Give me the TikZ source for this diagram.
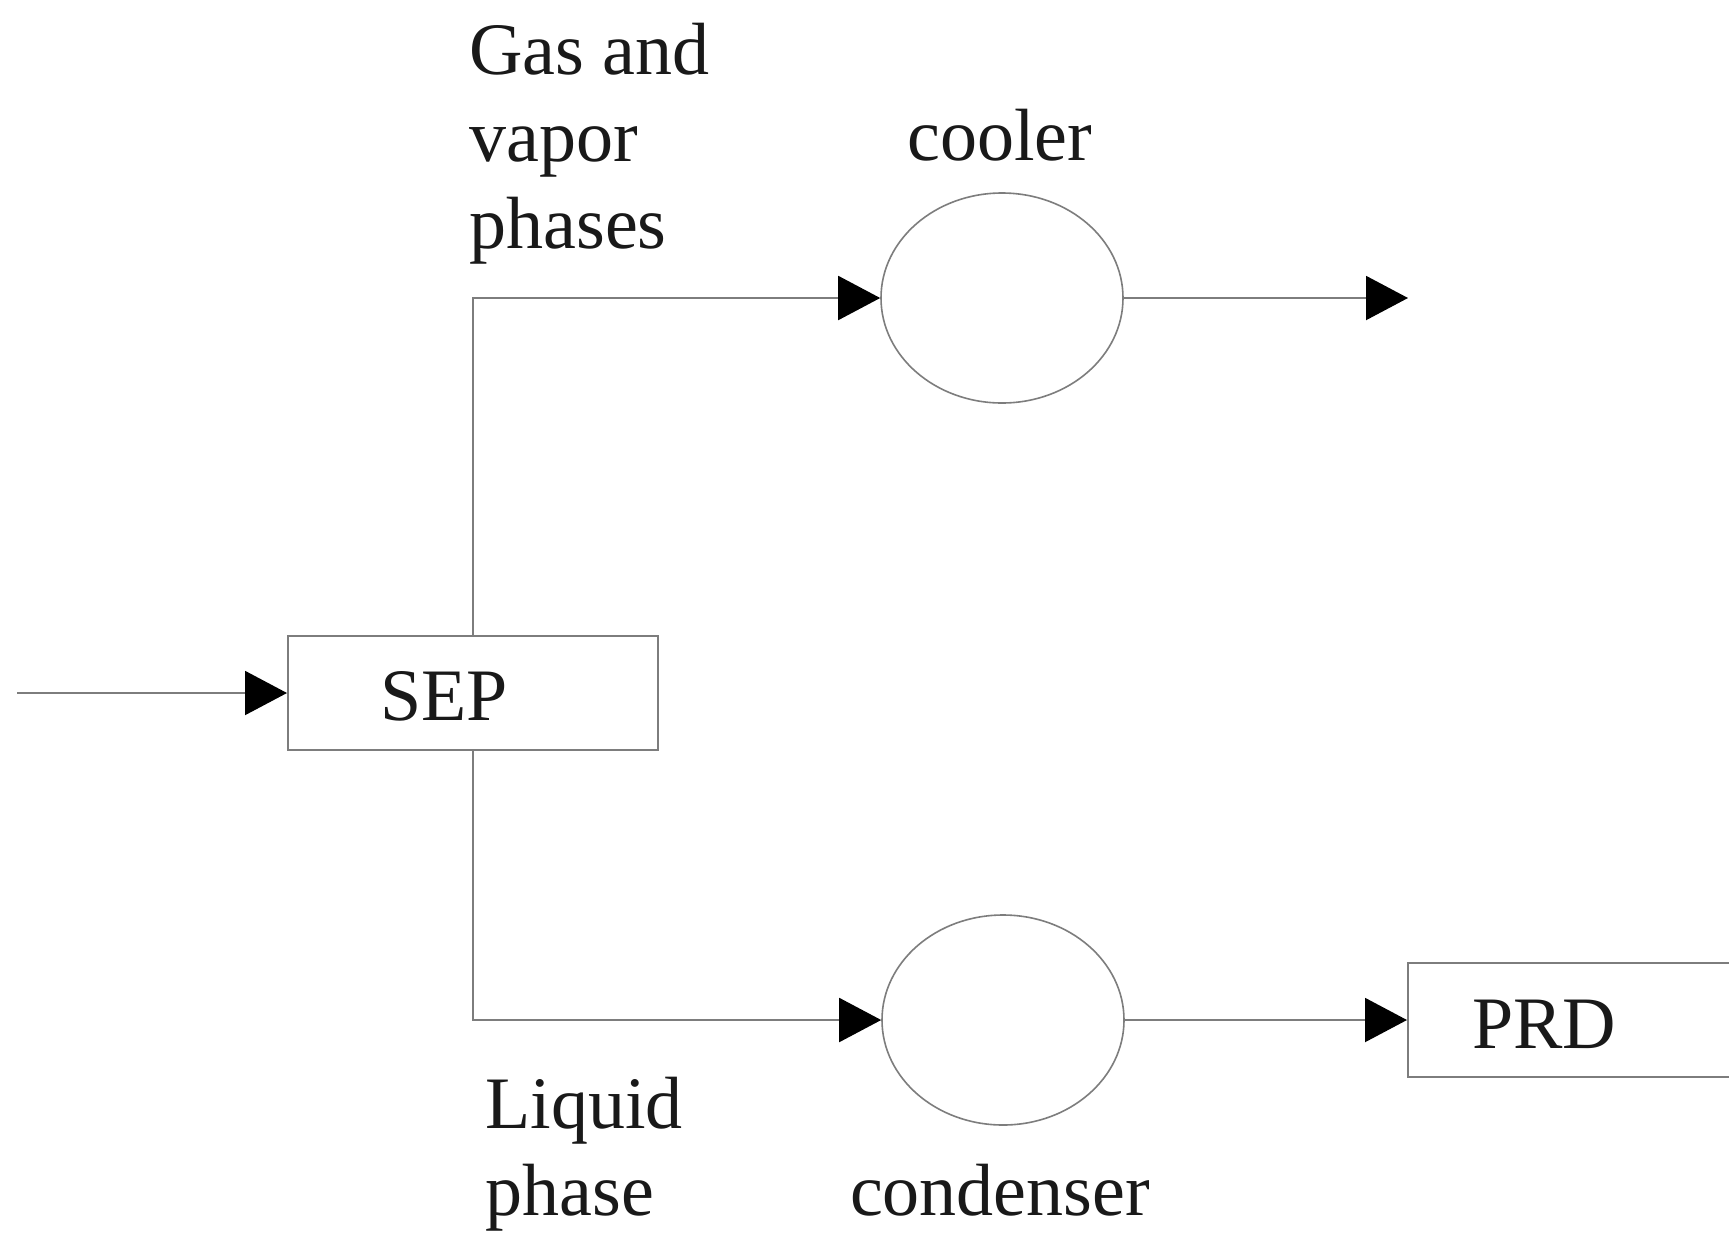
\documentclass[tikz,border=0pt]{standalone}
\usepackage{fontspec}
\setmainfont{Liberation Serif}
\usetikzlibrary{arrows.meta,shapes.geometric}
\definecolor{linegray}{RGB}{125,125,125}
\definecolor{txt}{RGB}{25,25,25}
\tikzset{
  flow/.style={draw=linegray, line width=1pt, -{Triangle[length=21pt,width=22pt,fill=black,color=black]}},
  plain/.style={draw=linegray, line width=1pt},
  unitbox/.style={draw=linegray, line width=1pt, rectangle, inner sep=0pt},
  unitoval/.style={draw=linegray, line width=0.8pt, ellipse, inner sep=0pt, minimum width=121pt, minimum height=105pt},
  lbl/.style={text=txt, inner sep=0pt, font=\fontsize{37}{43.5}\selectfont, align=left}
}
\begin{document}
\begin{tikzpicture}[x=0.5pt, y=-0.5pt]
\useasboundingbox[fill=white] (0,0) rectangle (1729,1233);
\clip (0,0) rectangle (1729,1233);
% units
\node[unitbox, minimum width=185pt, minimum height=57pt] (sep) at (473,693) {};
\node[lbl, anchor=base west] (septext) at (380,720) {SEP};
\node[unitoval] (cooler) at (1002,298) {};
\node[unitoval] (condenser) at (1003,1020) {};
\node[unitbox, minimum width=176pt, minimum height=57pt] (prd) at (1584,1020) {};
\node[lbl, anchor=base west] (prdtext) at (1472,1048) {PRD};
% free ends
\coordinate (feed) at (17,693);
\coordinate (out) at (1408,298);
% connectors
\draw[flow] (feed) -- (sep.west);
\draw[flow] (sep.north) |- (cooler.west);
\draw[flow] (sep.south) |- (condenser.west);
\draw[flow] (cooler.east) -- (out);
\draw[flow] (condenser.east) -- (prd.west);
% labels
\node[lbl, anchor=base west] (gas) at (469,248) {Gas and\\vapor\\phases};
\node[lbl, anchor=base] (coolertext) at (1000,160) {cooler};
\node[lbl, anchor=base west] (liquid) at (485,1215) {Liquid\\phase};
\node[lbl, anchor=base] (condensertext) at (1000,1215) {condenser};
\end{tikzpicture}
\end{document}
